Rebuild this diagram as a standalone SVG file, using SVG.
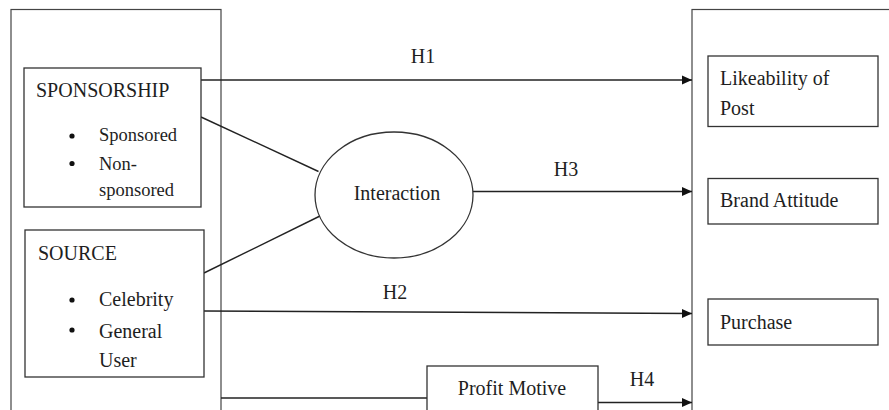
<svg xmlns="http://www.w3.org/2000/svg" width="889" height="410" viewBox="0 0 889 410">
  <style>
    text { font-family: 'Liberation Serif', 'DejaVu Serif', serif; font-size: 20px; fill: #1e1e1e; }
    .small { font-size: 18.5px; }
    .box { fill: #ffffff; stroke: #333333; stroke-width: 1.3; }
    .frame { fill: none; stroke: #444444; stroke-width: 1.2; }
    .link { fill: none; stroke: #222222; stroke-width: 1.4; }
    .arrow { fill: none; stroke: #222222; stroke-width: 1.6; marker-end: url(#head); }
    .mid { text-anchor: middle; }
  </style>
  <defs>
    <marker id="head" viewBox="0 0 10 10" refX="10" refY="5" markerUnits="userSpaceOnUse" markerWidth="10" markerHeight="10" orient="auto">
      <path d="M0,0.5 L10,5 L0,9.5 Z" fill="#111111"/>
    </marker>
    <!-- text area of the sponsorship box; the last line runs past its bottom -->
    <clipPath id="sponsorship-text">
      <rect x="24" y="68" width="177" height="132"/>
    </clipPath>
  </defs>

  <rect width="889" height="410" fill="#ffffff"/>

  <!-- outer frames: independent variables (left) and outcomes (right) -->
  <g id="frames">
    <rect class="frame" x="11" y="9.5" width="210" height="420"/>
    <rect class="frame" x="692" y="9.5" width="220" height="420"/>
  </g>

  <!-- connectors -->
  <g id="connectors">
    <line class="arrow" x1="201" y1="80" x2="692" y2="80"/>
    <line class="link" x1="201" y1="117" x2="318.5" y2="171.5"/>
    <line class="link" x1="204" y1="273" x2="322" y2="215"/>
    <line class="arrow" x1="473" y1="191.5" x2="692" y2="191.5"/>
    <line class="arrow" x1="204" y1="311" x2="692" y2="313.5"/>
    <line class="link" x1="221" y1="398" x2="427" y2="398"/>
    <line class="arrow" x1="598" y1="402.5" x2="692" y2="402.5"/>
    <text class="mid" x="423" y="63">H1</text>
    <text class="mid" x="566" y="176">H3</text>
    <text class="mid" x="395" y="299">H2</text>
    <text class="mid" x="642" y="386">H4</text>
  </g>

  <g id="sponsorship">
    <rect class="box" x="24" y="68" width="177" height="139"/>
    <text x="36" y="97">SPONSORSHIP</text>
    <circle cx="72" cy="136" r="2.6" fill="#111111"/>
    <circle cx="72" cy="163.5" r="2.6" fill="#111111"/>
    <g clip-path="url(#sponsorship-text)">
      <text class="small" x="99" y="141">Sponsored</text>
      <text class="small" x="99" y="169.5">Non-</text>
      <text class="small" x="99" y="196">sponsored</text>
    </g>
  </g>

  <g id="source">
    <rect class="box" x="25" y="230" width="179" height="147"/>
    <text x="38" y="260">SOURCE</text>
    <circle cx="72" cy="300" r="2.6" fill="#111111"/>
    <circle cx="72" cy="330" r="2.6" fill="#111111"/>
    <text x="99" y="306">Celebrity</text>
    <text x="99" y="337.5">General</text>
    <text x="99" y="366.5">User</text>
  </g>

  <g id="interaction">
    <ellipse class="box" cx="394" cy="195" rx="79" ry="63"/>
    <text class="mid" x="397" y="200">Interaction</text>
  </g>

  <g id="profit-motive">
    <rect class="box" x="427" y="366" width="171" height="60"/>
    <text class="mid" x="512" y="395">Profit Motive</text>
  </g>

  <g id="likeability">
    <rect class="box" x="708" y="56" width="170" height="70.5"/>
    <text x="720" y="85">Likeability of</text>
    <text x="720" y="115">Post</text>
  </g>

  <g id="brand-attitude">
    <rect class="box" x="708" y="178.5" width="170" height="45.5"/>
    <text x="720" y="207">Brand Attitude</text>
  </g>

  <g id="purchase">
    <rect class="box" x="708" y="299" width="170" height="46"/>
    <text x="720" y="328.5">Purchase</text>
  </g>
</svg>
